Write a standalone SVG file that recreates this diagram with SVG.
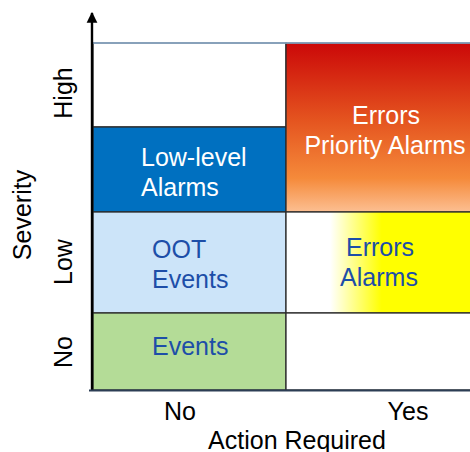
<svg xmlns="http://www.w3.org/2000/svg" width="470" height="452" viewBox="0 0 470 452">
  <defs>
    <linearGradient id="redGrad" x1="0" y1="0" x2="0" y2="1">
      <stop offset="0" stop-color="#cb0808"/>
      <stop offset="0.45" stop-color="#e4531f"/>
      <stop offset="0.8" stop-color="#f58a3a"/>
      <stop offset="1" stop-color="#fcbf92"/>
    </linearGradient>
    <linearGradient id="yelGrad" gradientUnits="userSpaceOnUse" x1="286" y1="0" x2="470" y2="0">
      <stop offset="0" stop-color="#ffffff"/>
      <stop offset="0.24" stop-color="#ffffff"/>
      <stop offset="0.52" stop-color="#ffff00"/>
      <stop offset="1" stop-color="#ffff00"/>
    </linearGradient>
    <marker id="arrow" viewBox="0 0 10 10" refX="9" refY="5" markerWidth="4.5" markerHeight="5" orient="auto" markerUnits="strokeWidth">
      <path d="M0,0 L10,5 L0,10 z" fill="#000"/>
    </marker>
  </defs>
  <style>
    .cell { stroke: #2b2b2b; stroke-width: 1.3; }
    .t { font-family: "Liberation Sans", Arial, sans-serif; font-size: 25px; }
    .white { fill: #ffffff; }
    .blue { fill: #1d4ea8; }
    .lbl { fill: #000000; }
  </style>
  <rect x="0" y="0" width="470" height="452" fill="#ffffff"/>

  <g id="cell-high-no">
    <rect class="cell" x="93" y="43" width="193" height="84" fill="#ffffff"/>
  </g>
  <g id="cell-lowlevel-alarms">
    <rect class="cell" x="93" y="127" width="193" height="85" fill="#0070c0"/>
    <text class="t white" x="141" y="166">Low-level</text>
    <text class="t white" x="141" y="196">Alarms</text>
  </g>
  <g id="cell-oot-events">
    <rect class="cell" x="93" y="212" width="193" height="101" fill="#cce4f9"/>
    <text class="t blue" x="152" y="258">OOT</text>
    <text class="t blue" x="152" y="288">Events</text>
  </g>
  <g id="cell-events">
    <rect class="cell" x="93" y="313" width="193" height="77" fill="#b4dc97"/>
    <text class="t blue" x="152" y="355">Events</text>
  </g>
  <g id="cell-errors-priority">
    <rect class="cell" x="286" y="43" width="190" height="169" fill="url(#redGrad)"/>
    <text class="t white" x="386" y="124" text-anchor="middle">Errors</text>
    <text class="t white" x="385" y="154" text-anchor="middle">Priority Alarms</text>
  </g>
  <g id="cell-errors-alarms">
    <rect class="cell" x="286" y="212" width="190" height="101" fill="url(#yelGrad)"/>
    <text class="t blue" x="380" y="256" text-anchor="middle">Errors</text>
    <text class="t blue" x="379" y="286" text-anchor="middle">Alarms</text>
  </g>
  <g id="cell-no-yes">
    <rect class="cell" x="286" y="313" width="190" height="77" fill="#ffffff"/>
  </g>
  <line x1="93" y1="43" x2="470" y2="43" stroke="#8fb0d2" stroke-width="1.3"/>

  <g id="connectors">
    <line id="y-axis" x1="92" y1="390" x2="92" y2="13" stroke="#000" stroke-width="2.4" marker-end="url(#arrow)"/>
    <line id="x-axis" x1="89" y1="390.5" x2="470" y2="390.5" stroke="#2c3e55" stroke-width="2.2"/>
  </g>

  <g id="axis-labels">
    <text class="t lbl" transform="translate(72,93) rotate(-90)" text-anchor="middle">High</text>
    <text class="t lbl" transform="translate(72,262) rotate(-90)" text-anchor="middle">Low</text>
    <text class="t lbl" transform="translate(72,352) rotate(-90)" text-anchor="middle">No</text>
    <text class="t lbl" transform="translate(31,215) rotate(-90)" text-anchor="middle">Severity</text>
    <text class="t lbl" x="180" y="420" text-anchor="middle">No</text>
    <text class="t lbl" x="408" y="420" text-anchor="middle">Yes</text>
    <text class="t lbl" x="297" y="449" text-anchor="middle">Action Required</text>
  </g>
</svg>
